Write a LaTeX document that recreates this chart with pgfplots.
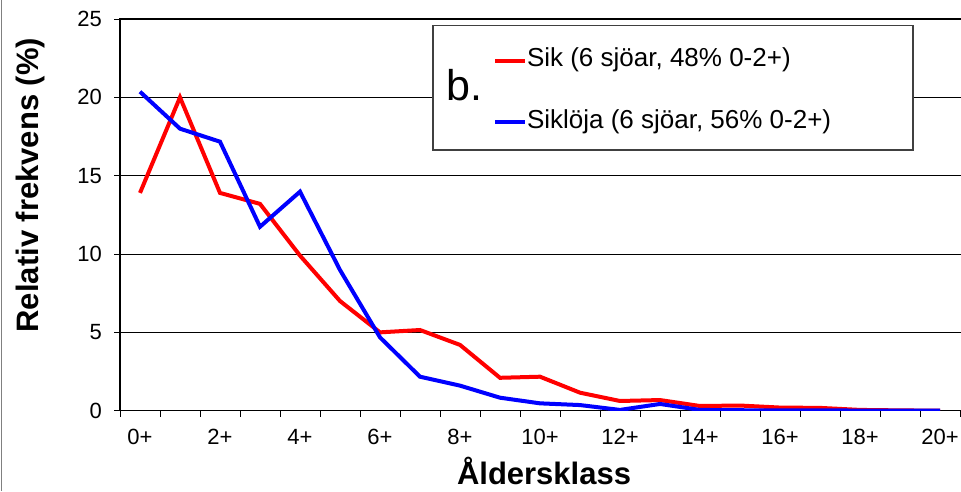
\documentclass[border=0pt]{standalone}
\usepackage{fontspec}
\setmainfont{Liberation Sans}
\usepackage{pgfplots}
\pgfplotsset{compat=1.18}
\begin{document}
\begin{tikzpicture}
\begin{axis}[
  at={(120pt,80.3pt)}, anchor=south west,
  scale only axis, width=842pt, height=391.7pt,
  xmin=-0.5, xmax=20.55, ymin=0, ymax=25,
  xtick={0,2,...,20},
  xticklabels={0+,2+,4+,6+,8+,10+,12+,14+,16+,18+,20+},
  minor xtick={-0.5,0.5,...,20.5},
  ytick={0,5,...,25},
  tick align=outside,
  major tick length=6pt, minor tick length=6pt,
  major x tick style={draw=none},
  tick style={black, line width=1pt},
  xtick pos=bottom, ytick pos=left,
  ymajorgrids, grid style={black, line width=0.8pt},
  axis line style={black, line width=1.3pt},
  /pgf/number format/assume math mode=true,
  tick label style={font=\fontsize{22}{26}\selectfont},
  yticklabel style={inner sep=0pt, xshift=-12pt},
  xticklabel style={inner sep=0pt, yshift=-12pt},
  xlabel={Åldersklass},
  ylabel={Relativ frekvens (\%)},
  label style={font=\fontsize{31}{36}\selectfont\bfseries},
  xlabel style={at={(axis description cs:0.5036,-0.1875)}, anchor=base, text depth=0pt, inner sep=0pt},
  ylabel style={at={(axis description cs:-0.1069,0.576)}, anchor=center},
  legend image code/.code={\draw[#1] (0pt,0pt) -- (30pt,0pt);},
  legend style={draw=none, fill=none, inner sep=0pt, outer sep=0pt,
    at={(axis description cs:0.443,0.924)}, anchor=north west,
    font=\fontsize{26}{30}\selectfont, row sep=37.6pt,
    nodes={inner sep=0pt, text height=18pt, text depth=6pt}},
  legend cell align=left,
]
\addplot[red, line width=4pt] coordinates {
(0,13.9) (1,20.0) (2,13.9) (3,13.2) (4,9.9) (5,7.0) (6,5.0) (7,5.15) (8,4.2) (9,2.1) (10,2.17)
(11,1.15) (12,0.62) (13,0.68) (14,0.3) (15,0.33) (16,0.2) (17,0.18) (18,0.05) (19,0.02) (20,0.0)};
\addlegendentry{Sik (6 sjöar, 48\% 0-2+)}
\addplot[blue, line width=4pt] coordinates {
(0,20.36) (1,18.0) (2,17.17) (3,11.74) (4,13.98) (5,8.98) (6,4.68) (7,2.17) (8,1.6) (9,0.83) (10,0.47)
(11,0.36) (12,0.05) (13,0.43) (14,0.05) (15,0.03) (16,0.02) (17,0.02) (18,0.01) (19,0.01) (20,0.0)};
\addlegendentry{Siklöja (6 sjöar, 56\% 0-2+)}
\draw[draw=black!75, fill=white, line width=1.3pt] (axis description cs:0.3717,0.983) rectangle (axis description cs:0.9418,0.6656);
\node[anchor=base west, inner sep=0pt, font=\fontsize{43}{48}\selectfont] at (axis description cs:0.388,0.7914) {b.};
\end{axis}
\draw[black!50, line width=1pt] (1pt,0pt) -- (1pt,491pt);
\pgfresetboundingbox
\useasboundingbox (0pt,0pt) rectangle (961pt,491pt);
\end{tikzpicture}
\end{document}
